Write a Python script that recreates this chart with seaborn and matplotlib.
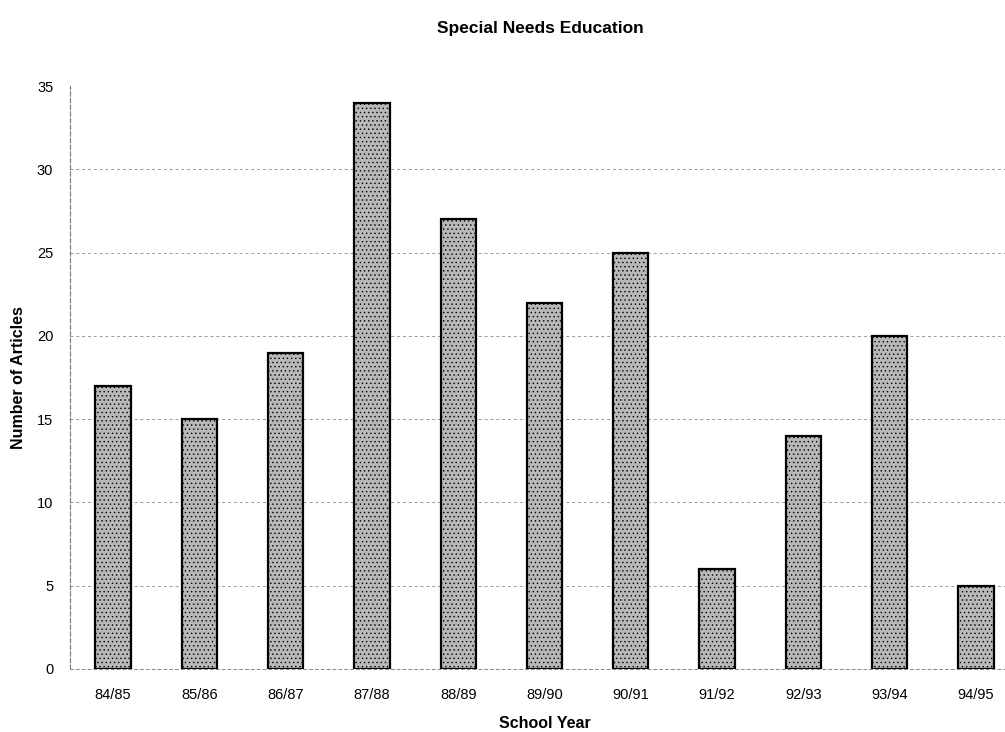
import matplotlib
matplotlib.use("Agg")
import matplotlib.pyplot as plt
import seaborn as sns
import pandas as pd

years = ["84/85", "85/86", "86/87", "87/88", "88/89", "89/90",
         "90/91", "91/92", "92/93", "93/94", "94/95"]
articles = [17, 15, 19, 34, 27, 22, 25, 6, 14, 20, 5]
y_ticks = [0, 5, 10, 15, 20, 25, 30, 35]

sns.set_theme(style="white")
plt.rcParams["font.family"] = ["Liberation Sans", "DejaVu Sans"]
plt.rcParams["text.color"] = "black"
plt.rcParams["axes.labelcolor"] = "black"
plt.rcParams["hatch.color"] = "#808080"
plt.rcParams["hatch.linewidth"] = 0.5

df = pd.DataFrame({"School Year": years, "Number of Articles": articles})

fig = plt.figure(figsize=(10.05, 7.32), dpi=100)
# axes reaches a little past the right edge of the figure
ax = fig.add_axes([70 / 1005, (732 - 669) / 732, (1019 - 70) / 1005, (669 - 86) / 732])

sns.barplot(data=df, x="School Year", y="Number of Articles", ax=ax,
            color="#b8b8b8", saturation=1, width=0.41,
            edgecolor="black", linewidth=1.6, zorder=3)
for p in ax.patches:
    p.set_hatch("....")

ax.set_ylim(0, 35)
ax.set_yticks(y_ticks)
ax.set_yticklabels([str(t) for t in y_ticks], fontsize=10.5, color="black")
ax.tick_params(axis="x", labelsize=10.5, pad=14, length=0, colors="black")
ax.tick_params(axis="y", pad=12, length=0)

ax.yaxis.grid(True, linestyle=(0, (3, 3)), color="#9a9a9a", linewidth=0.7, zorder=0)
# no grid line along the top of the value range
ax.yaxis.get_gridlines()[-1].set_visible(False)
for side in ["top", "right"]:
    ax.spines[side].set_visible(False)
ax.spines["left"].set_color("#777777")
ax.spines["left"].set_linewidth(0.8)
ax.spines["left"].set_linestyle((0, (4, 2)))
ax.spines["bottom"].set_color("#888888")
ax.spines["bottom"].set_linewidth(0.7)
ax.spines["bottom"].set_linestyle((0, (3, 3)))

ax.set_xlabel("School Year", fontsize=11.5, fontweight="bold", labelpad=10)
ax.set_ylabel("Number of Articles", fontsize=11.5, fontweight="bold", labelpad=8)
fig.text(540 / 1005, 1 - 28 / 732, "Special Needs Education",
         ha="center", va="center", fontsize=12.5, fontweight="bold")

fig.savefig("out.png", dpi=100)
